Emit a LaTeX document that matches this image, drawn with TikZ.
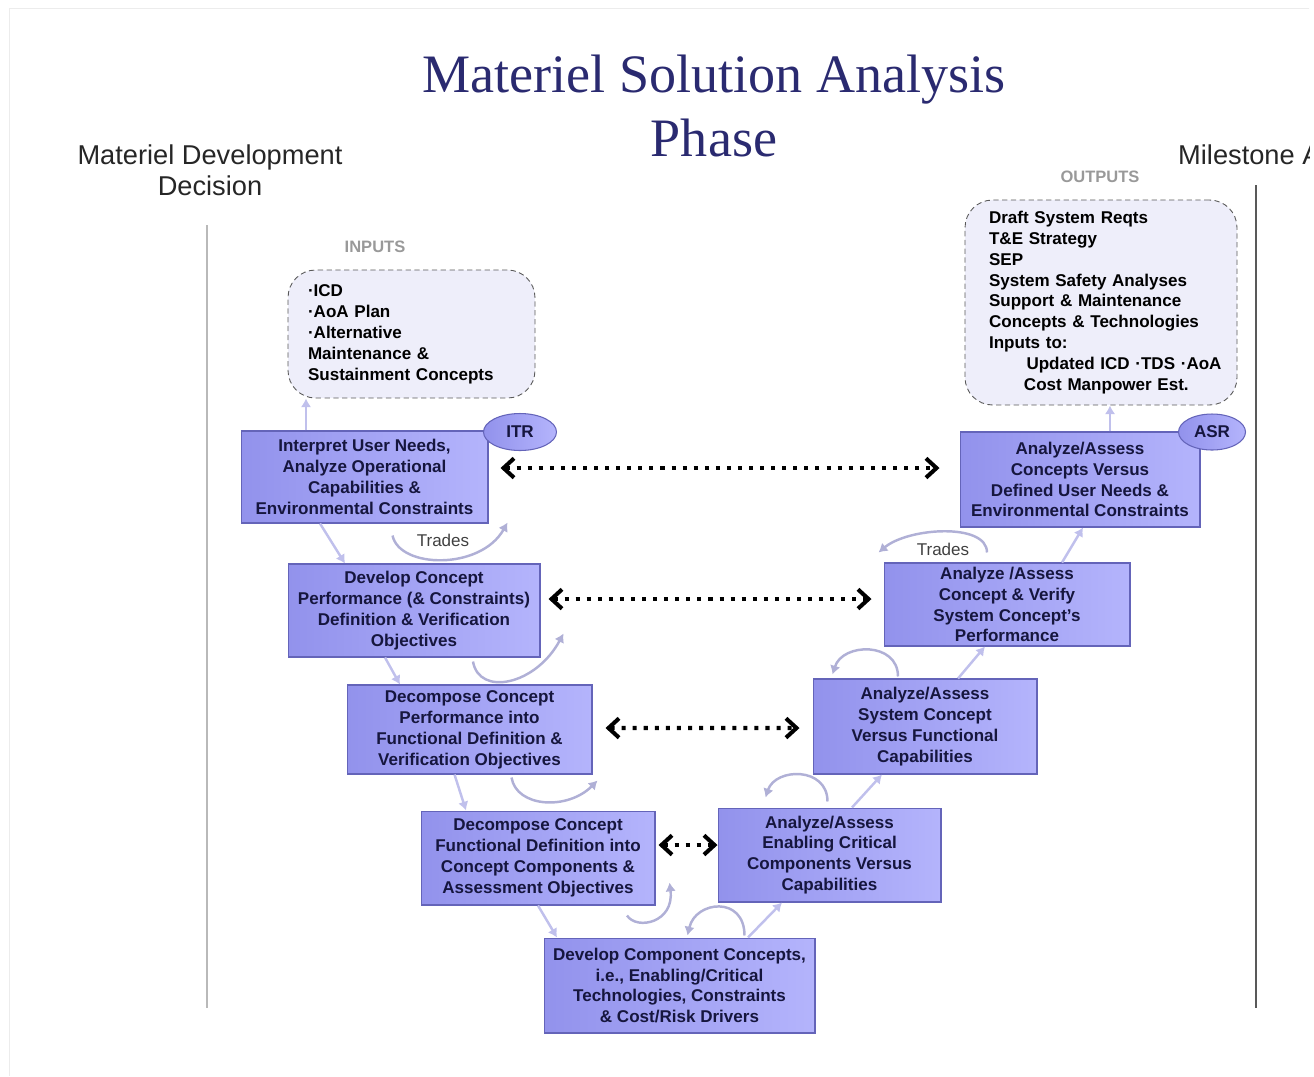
\documentclass[tikz,border=0pt]{standalone}
\usepackage{fontspec}
\setmainfont{Liberation Sans}
\newfontfamily\titlefont{Liberation Serif}
\usetikzlibrary{arrows.meta,calc,shapes.geometric}

\definecolor{titleblue}{RGB}{42,42,112}
\definecolor{boxleft}{RGB}{146,146,236}
\definecolor{boxright}{RGB}{180,180,252}
\definecolor{boxline}{RGB}{100,100,185}
\definecolor{boxtext}{RGB}{22,22,62}
\definecolor{flowline}{RGB}{192,192,236}
\definecolor{tradeline}{RGB}{176,176,214}
\definecolor{ioback}{RGB}{238,238,250}

\begin{document}
\begin{tikzpicture}[
    x=0.02cm, y=-0.02cm,
    stage/.style={rectangle, draw=boxline, line width=0.6pt, left color=boxleft, right color=boxright,
        text=boxtext, font=\fontsize{9.7}{11.9}\selectfont\bfseries, align=center, inner sep=0pt},
    review/.style={ellipse, draw=boxline, line width=0.6pt, left color=boxleft, right color=boxright,
        text=boxtext, font=\fontsize{9.7}{11.9}\selectfont\bfseries, inner sep=0pt},
    io/.style={rectangle, rounded corners=0.55cm, draw=gray!70!black, densely dashed, line width=0.5pt,
        fill=ioback, text=black, font=\fontsize{9.7}{11.9}\selectfont\bfseries, align=left, inner ysep=0pt},
    iohead/.style={text=gray!80, font=\fontsize{9.4}{11}\selectfont\bfseries},
    milestone/.style={text=black!85, font=\fontsize{15.5}{17.6}\selectfont, align=center},
    tradetext/.style={text=black!75, font=\fontsize{9.7}{11}\selectfont},
    flow/.style={draw=flowline, line width=1.4pt, -{Latex[length=5pt,width=6pt]}},
    trade/.style={draw=tradeline, line width=1.4pt, -{Latex[length=5pt,width=6pt]}},
    link/.style={black, line width=2.3pt, dash pattern=on 2.3pt off 4pt,
        {Straight Barb[length=6pt,width=11pt]}-{Straight Barb[length=6pt,width=11pt]}}
]
\useasboundingbox (0,0) rectangle (1314,1076);
\clip (0,0) rectangle (1309,1076);
\draw[gray!15] (9,1076) |- (1314,8);

% title and milestones
\node[font=\titlefont\fontsize{30.8}{36.9}\selectfont, text=titleblue, align=center] (title) at (714,106) {Materiel Solution Analysis\\Phase};
\node[milestone] (mdd) at (210,170) {Materiel Development\\Decision};
\node[milestone, anchor=west] (msa) at (1172,155) {Milestone A};
\draw[gray!55, line width=1pt] (207,225) -- (207,1008);
\draw[gray!70!black, line width=1.2pt] (1256,185) -- (1256,1008);

% inputs and outputs
\node[iohead] (inhead) at (375,247) {INPUTS};
\node[io, text width=4.14cm, inner xsep=0.4cm, minimum height=2.56cm] (inputs) at (411.5,334)
    {·ICD\\·AoA Plan\\·Alternative\\Maintenance \&\\Sustainment Concepts};
\node[iohead] (outhead) at (1100,177) {OUTPUTS};
\node[io, text width=4.48cm, inner xsep=0.48cm, minimum height=4.1cm] (outputs) at (1101,302.5)
    {Draft System Reqts\\T\&E Strategy\\SEP\\System Safety Analyses\\Support \& Maintenance\\Concepts \& Technologies\\Inputs to:\\
     \hspace*{2.2em}\mbox{Updated ICD ·TDS ·AoA}\\\hspace*{2.05em}\mbox{Cost Manpower Est.}};

% left leg of the V
\node[stage, minimum width=4.94cm, minimum height=1.84cm] (b1) at (364.5,477)
    {Interpret User Needs,\\Analyze Operational\\Capabilities \&\\Environmental Constraints};
\node[stage, minimum width=5.04cm, minimum height=1.86cm] (b2) at (414,610.5)
    {Develop Concept\\Performance (\& Constraints)\\Definition \& Verification\\Objectives};
\node[stage, minimum width=4.90cm, minimum height=1.78cm] (b3) at (469.5,729.5)
    {Decompose Concept\\Performance into\\Functional Definition \&\\Verification Objectives};
\node[stage, minimum width=4.68cm, minimum height=1.88cm] (b4) at (538,858)
    {Decompose Concept\\Functional Definition into\\Concept Components \&\\Assessment Objectives};
\node[stage, minimum width=5.42cm, minimum height=1.90cm] (b5) at (679.5,985.5)
    {Develop Component Concepts,\\i.e., Enabling/Critical\\Technologies, Constraints\\\& Cost/Risk Drivers};

% right leg of the V
\node[stage, minimum width=4.46cm, minimum height=1.88cm] (b6) at (829.5,855)
    {Analyze/Assess\\Enabling Critical\\Components Versus\\Capabilities};
\node[stage, minimum width=4.48cm, minimum height=1.90cm] (b7) at (925,726.5)
    {Analyze/Assess\\System Concept\\Versus Functional\\Capabilities};
\node[stage, minimum width=4.92cm, minimum height=1.66cm] (b8) at (1007,604.5)
    {Analyze /Assess\\Concept \& Verify\\System Concept's\\Performance};
\node[stage, minimum width=4.80cm, minimum height=1.90cm] (b9) at (1080,479.5)
    {Analyze/Assess\\Concepts Versus\\Defined User Needs \&\\Environmental Constraints};

\node[review, minimum width=1.46cm, minimum height=0.74cm] (itr) at (520,432) {ITR};
\node[review, minimum width=1.34cm, minimum height=0.72cm] (asr) at (1212,432) {ASR};

% flow through the V
\draw[flow] ($(b1.north)+(-58.5,0)$) -- ($(inputs.south)+(-105.5,0)$);
\draw[flow] ($(b9.north)+(30,0)$) -- ($(outputs.south)+(9,0)$);
\draw[flow] ($(b1.south)+(-44.5,0)$) -- ($(b2.north)+(-69,0)$);
\draw[flow] ($(b2.south)+(-29,0)$) -- ($(b3.north)+(-69.5,0)$);
\draw[flow] ($(b3.south)+(-15,0)$) -- ($(b4.north)+(-72,0)$);
\draw[flow] (b4.south) -- ($(b5.north)+(-122.5,0)$);
\draw[flow] ($(b5.north)+(68.5,0)$) -- ($(b6.south)+(-47.5,0)$);
\draw[flow] ($(b6.north)+(22.5,0)$) -- ($(b7.south)+(-43,0)$);
\draw[flow] ($(b7.north)+(33,0)$) -- ($(b8.south)+(-22,0)$);
\draw[flow] ($(b8.north)+(55,0)$) -- ($(b9.south)+(3,0)$);

% trades loops
\draw[trade] ($(b1.south)+(28,12)$) .. controls +(7,33) and +(-27,48) .. ($(b1.south east)+(19,-1)$);
\draw[trade] ($(b2.south)+(59,4)$) .. controls +(6,35) and +(-28,52) .. ($(b2.south east)+(23,-24)$);
\draw[trade] ($(b3.south)+(42,3)$) .. controls +(5,30) and +(-30,30) .. ($(b3.south east)+(5,6)$);
\draw[trade] ($(b4.south)+(89,10)$) .. controls +(10,15) and +(5,40) .. ($(b4.south east)+(14,-23)$);
\draw[trade] ($(b5.north)+(65,-2)$) .. controls +(0,-40) and +(8,-35) .. ($(b5.north)+(8,-2)$);
\draw[trade] ($(b6.north)+(-2,-6)$) .. controls +(0,-35) and +(10,-30) .. ($(b6.north west)+(48,-10)$);
\draw[trade] ($(b7.north)+(-27,-2)$) .. controls +(0,-35) and +(10,-32) .. ($(b7.north west)+(20,-4)$);
\draw[trade] ($(b8.north)+(-20,-10)$) .. controls +(0,-30) and +(30,-25) .. ($(b8.north west)+(-5,-10)$);
\node[tradetext] (trade1) at (443,540) {Trades};
\node[tradetext] (trade2) at (943,549) {Trades};

% verification links across the V
\draw[link] ($(b1.east)+(12,-9)$) -- ($(b9.west)+(-20,-11.5)$);
\draw[link] ($(b2.east)+(8,-11.5)$) -- ($(b8.west)+(-12,-5.5)$);
\draw[link] ($(b3.east)+(13,-1.5)$) -- ($(b7.west)+(-13,1.5)$);
\draw[link] ($(b4.east)+(3,-13)$) -- ($(b6.west)+(0,-10)$);
\end{tikzpicture}
\end{document}
